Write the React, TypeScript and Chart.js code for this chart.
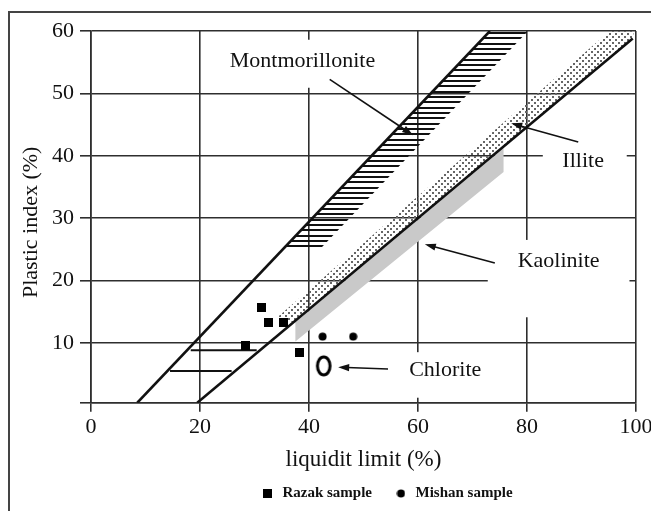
import React, { useEffect, useRef } from 'react';
import { Chart, registerables } from 'chart.js';

Chart.register(...registerables);

// ---- data ----
const xTickValues = [0, 20, 40, 60, 80, 100];
const yTickValues = [10, 20, 30, 40, 50, 60];
const yAxisMin = 0.4;

const razakSample = [
  { x: 31.2, y: 15.7 },
  { x: 32.6, y: 13.2 },
  { x: 35.4, y: 13.2 },
  { x: 28.4, y: 9.6 },
  { x: 38.3, y: 8.5 },
];
const mishanSample = [
  { x: 42.5, y: 11.0 },
  { x: 48.1, y: 11.0 },
];
const chloritePoint = [{ x: 42.7, y: 6.3 }];

const uLine = [{ x: 8.5, y: 0.4 }, { x: 73.2, y: 60 }];
const aLine = [{ x: 19.5, y: 0.4 }, { x: 99.4, y: 58.8 }];
const montmorilloniteBand = [
  { x: 35.2, y: 25 }, { x: 73.2, y: 60 }, { x: 80.2, y: 60 }, { x: 42.0, y: 25 },
];
const illiteBand = [
  { x: 34.3, y: 14.2 }, { x: 95.2, y: 60 }, { x: 99.6, y: 60 }, { x: 99.4, y: 58.8 }, { x: 37.1, y: 13.3 },
];
const kaoliniteBand = [
  { x: 37.5, y: 13.3 }, { x: 75.7, y: 41.2 }, { x: 75.7, y: 37.4 }, { x: 37.5, y: 10.2 },
];
const mlHatchUpper = [{ x: 18.3, y: 8.8 }, { x: 30.4, y: 8.8 }];
const mlHatchLower = [{ x: 14.5, y: 5.5 }, { x: 25.8, y: 5.5 }];

const regionLabels = [
  { text: 'Montmorillonite', x: 38.8, y: 55.2 },
  { text: 'Illite', x: 90.3, y: 39.2 },
  { text: 'Kaolinite', x: 85.8, y: 23.1 },
  { text: 'Chlorite', x: 65.0, y: 5.6 },
];
// white areas behind labels (gridlines are interrupted there)
const labelMasks = [
  { x0: 25.9, x1: 52.3, y0: 50.9, y1: 58.6 },
  { x0: 82.9, x1: 98.3, y0: 37.4, y1: 41.2 },
  { x0: 72.8, x1: 98.8, y0: 14.1, y1: 26.5 },
  { x0: 57.6, x1: 73.2, y0: 1.2, y1: 8.5 },
];
const arrows = [
  { from: { x: 43.8, y: 52.25 }, to: { x: 59.1, y: 43.3 } },
  { from: { x: 89.4, y: 42.2 }, to: { x: 77.1, y: 45.2 } },
  { from: { x: 74.1, y: 22.8 }, to: { x: 61.25, y: 25.8 } },
  { from: { x: 54.5, y: 5.8 }, to: { x: 45.35, y: 6.1 } },
];

const SERIF = "'Liberation Serif', 'Times New Roman', serif";
const INK = '#111';
const GRID = '#2e2e2e';

export default function App() {
  const ref = useRef<HTMLCanvasElement>(null);

  useEffect(() => {
    const canvas = ref.current;
    if (!canvas) return;
    const ctx = canvas.getContext('2d')!;
    const mk = (w: number, h: number, draw: (g: CanvasRenderingContext2D) => void) => {
      const c = document.createElement('canvas');
      c.width = w;
      c.height = h;
      draw(c.getContext('2d')!);
      return c;
    };
    const hatch = ctx.createPattern(
      mk(4, 16, (g) => {
        g.fillStyle = '#111';
        g.fillRect(0, 0, 4, 2);
        g.fillRect(0, 5, 4, 2);
        g.fillRect(0, 11, 4, 2);
      }),
      'repeat'
    )!;
    const stipple = ctx.createPattern(
      mk(6, 6, (g) => {
        g.fillStyle = '#666';
        g.fillRect(0, 0, 2, 2);
        g.fillRect(3, 3, 2, 2);
      }),
      'repeat'
    )!;
    const squareImg = mk(9, 9, (g) => {
      g.fillStyle = '#000';
      g.fillRect(0, 0, 9, 9);
    });
    const dotImg = mk(9, 9, (g) => {
      g.fillStyle = '#000';
      g.beginPath();
      g.arc(4.5, 4.5, 4, 0, Math.PI * 2);
      g.fill();
    });
    const ringImg = mk(22, 26, (g) => {
      g.strokeStyle = '#000';
      g.lineWidth = 3;
      g.beginPath();
      g.ellipse(11, 13, 6.3, 9, 0, 0, Math.PI * 2);
      g.stroke();
    });

    const noLine = 'rgba(0,0,0,0)';
    const band = (label: string, data: any[], fillStyle: any, order: number) => ({
      label,
      data,
      fill: 'shape',
      backgroundColor: fillStyle,
      borderColor: noLine,
      borderWidth: 0,
      pointRadius: 0,
      tension: 0,
      order,
    });
    const seg = (label: string, data: any[], width: number, order: number) => ({
      label,
      data,
      fill: false,
      borderColor: '#111',
      borderWidth: width,
      pointRadius: 0,
      tension: 0,
      order,
    });

    const annot = {
      id: 'annot',
      afterLayout(chart: any) {
        const lg = chart.legend;
        if (lg) {
          lg.left += 68.75;
          lg.right += 68.75;
        }
      },
      beforeDatasetsDraw(chart: any) {
        const { ctx: c, scales } = chart;
        const xs = scales.x;
        const ys = scales.y;
        c.save();
        c.fillStyle = '#fff';
        for (const m of labelMasks) {
          const px0 = xs.getPixelForValue(m.x0);
          const px1 = xs.getPixelForValue(m.x1);
          const py0 = ys.getPixelForValue(m.y1);
          const py1 = ys.getPixelForValue(m.y0);
          c.fillRect(px0, py0, px1 - px0, py1 - py0);
        }
        c.restore();
      },
      afterDatasetsDraw(chart: any) {
        const { ctx: c, scales } = chart;
        const xs = scales.x;
        const ys = scales.y;
        c.save();
        c.fillStyle = INK;
        c.font = `22px ${SERIF}`;
        c.textAlign = 'center';
        c.textBaseline = 'middle';
        for (const l of regionLabels) {
          c.fillText(l.text, xs.getPixelForValue(l.x), ys.getPixelForValue(l.y));
        }
        c.strokeStyle = '#111';
        c.fillStyle = '#111';
        c.lineWidth = 1.6;
        for (const a of arrows) {
          const x0 = xs.getPixelForValue(a.from.x);
          const y0 = ys.getPixelForValue(a.from.y);
          const x1 = xs.getPixelForValue(a.to.x);
          const y1 = ys.getPixelForValue(a.to.y);
          const ang = Math.atan2(y1 - y0, x1 - x0);
          const L = 11;
          const W = 3.6;
          c.beginPath();
          c.moveTo(x0, y0);
          c.lineTo(x1 - Math.cos(ang) * L * 0.8, y1 - Math.sin(ang) * L * 0.8);
          c.stroke();
          c.beginPath();
          c.moveTo(x1, y1);
          c.lineTo(x1 - Math.cos(ang) * L - Math.sin(ang) * W, y1 - Math.sin(ang) * L + Math.cos(ang) * W);
          c.lineTo(x1 - Math.cos(ang) * L + Math.sin(ang) * W, y1 - Math.sin(ang) * L - Math.cos(ang) * W);
          c.closePath();
          c.fill();
        }
        c.restore();
      },
    };

    const chart = new Chart(canvas, {
      type: 'line',
      data: {
        datasets: [
          {
            label: 'Razak sample',
            data: razakSample,
            showLine: false,
            pointStyle: squareImg as any,
            pointRadius: 5,
            backgroundColor: '#000',
            borderColor: '#000',
            order: 0,
          },
          {
            label: 'Mishan sample',
            data: mishanSample,
            showLine: false,
            pointStyle: dotImg as any,
            pointRadius: 5,
            backgroundColor: '#000',
            borderColor: '#000',
            order: 0,
          },
          {
            label: 'Chlorite',
            data: chloritePoint,
            showLine: false,
            pointStyle: ringImg as any,
            pointRadius: 5,
            order: 0,
          },
          seg('U line', uLine, 2.6, 1),
          seg('A line', aLine, 2.6, 1),
          seg('ML hatch 1', mlHatchUpper, 2, 1),
          seg('ML hatch 2', mlHatchLower, 2, 1),
          band('Montmorillonite band', montmorilloniteBand, hatch, 2),
          band('Illite band', illiteBand, stipple, 2),
          band('Kaolinite band', kaoliniteBand, '#c9c9c9', 3),
        ] as any,
      },
      options: {
        animation: false,
        responsive: false,
        events: [],
        layout: { padding: { left: 0, top: 31, right: 64, bottom: 0 } },
        scales: {
          x: {
            type: 'linear',
            min: 0,
            max: 100,
            afterBuildTicks: (s: any) => {
              s.ticks = xTickValues.map((v) => ({ value: v }));
            },
            afterFit: (s: any) => {
              s.height = 61.3;
            },
            ticks: { font: { family: SERIF, size: 22 }, color: INK, padding: 2 },
            grid: { color: GRID, lineWidth: 1.6, tickLength: 9, tickColor: GRID },
            border: { display: true, color: GRID, width: 1.6 },
            title: {
              display: true,
              text: 'liquidit limit (%)',
              font: { family: SERIF, size: 23 },
              color: INK,
              padding: { top: 0, bottom: -9.8 },
            },
          },
          y: {
            type: 'linear',
            min: yAxisMin,
            max: 60,
            afterBuildTicks: (s: any) => {
              s.ticks = [yAxisMin, ...yTickValues].map((v) => ({ value: v }));
            },
            afterFit: (s: any) => {
              s.width = 91;
            },
            ticks: {
              font: { family: SERIF, size: 22 },
              color: INK,
              padding: 6,
              callback: (v: any) => (v === yAxisMin ? '' : String(v)),
            },
            grid: { color: GRID, lineWidth: 1.6, tickLength: 11, tickColor: GRID },
            border: { display: true, color: GRID, width: 1.6 },
            title: {
              display: true,
              text: 'Plastic index (%)  ',
              font: { family: SERIF, size: 22 },
              color: INK,
              padding: { top: 17.8, bottom: 0 },
            },
          },
        },
        plugins: {
          tooltip: { enabled: false },
          legend: {
            display: true,
            position: 'bottom',
            labels: {
              usePointStyle: true,
              pointStyleWidth: 14,
              boxHeight: 15,
              padding: 22,
              color: '#111',
              font: { family: SERIF, size: 15, weight: 'bold' },
              filter: (item: any) => item.text === 'Razak sample' || item.text === 'Mishan sample',
            },
          },
        },
      } as any,
      plugins: [annot],
    });
    return () => chart.destroy();
  }, []);

  return (
    <div
      style={{
        position: 'fixed',
        left: 0,
        top: 0,
        width: 651,
        height: 511,
        overflow: 'hidden',
        background: '#fff',
      }}
    >
      <div
        style={{
          position: 'absolute',
          left: 8,
          top: 11,
          width: 700,
          height: 600,
          borderTop: '2px solid #444',
          borderLeft: '2px solid #444',
        }}
      />
      <canvas
        ref={ref}
        width={700}
        height={511}
        style={{ position: 'absolute', left: 0, top: 0, width: 700, height: 511 }}
      />
    </div>
  );
}
